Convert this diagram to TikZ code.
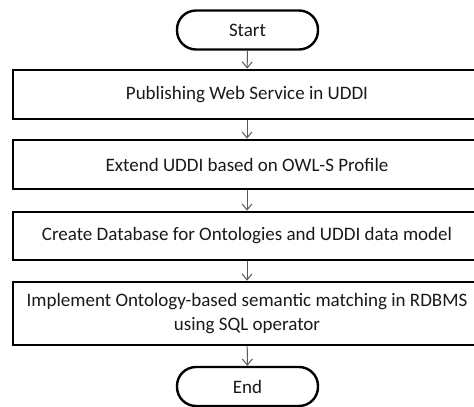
\documentclass[tikz,border=0pt]{standalone}
\usepackage{fontspec}
\setmainfont{Carlito}
\usetikzlibrary{arrows.meta}
\begin{document}
\begin{tikzpicture}[x=1pt,y=-1pt,
  term/.style={draw=black,line width=2.4pt,rounded corners=19pt,minimum width=141pt,minimum height=39pt,inner sep=0pt,font=\fontsize{19}{22}\selectfont,text=black!90},
  procbox/.style={draw=black,line width=2.8pt,minimum width=468pt,inner sep=0pt,align=center,font=\fontsize{19}{24}\selectfont,text=black!90},
  flow/.style={draw=black!65,line width=1pt,-{Straight Barb[length=6pt,width=10pt,line width=1pt]}}]
\useasboundingbox (0,0) rectangle (474,407);
\clip (0,0) rectangle (474,407);
\node[term] (start) at (247.5,30) {Start};
\node[procbox,minimum height=49pt] (p1) at (247,94.5) {Publishing Web Service in UDDI};
\node[procbox,minimum height=49pt] (p2) at (247,164.5) {Extend UDDI based on OWL-S Profile};
\node[procbox,minimum height=48pt] (p3) at (247,236) {Create Database for Ontologies and UDDI data model};
\node[procbox,minimum height=63pt] (p4) at (247,313.5) {Implement Ontology-based semantic matching in RDBMS\\using SQL operator};
\node[term] (end) at (247.5,386.5) {End};
\draw[flow] (start) -- (p1);
\draw[flow] (p1) -- (p2);
\draw[flow] (p2) -- (p3);
\draw[flow] (p3) -- (p4);
\draw[flow] (p4) -- (end);
\end{tikzpicture}
\end{document}
